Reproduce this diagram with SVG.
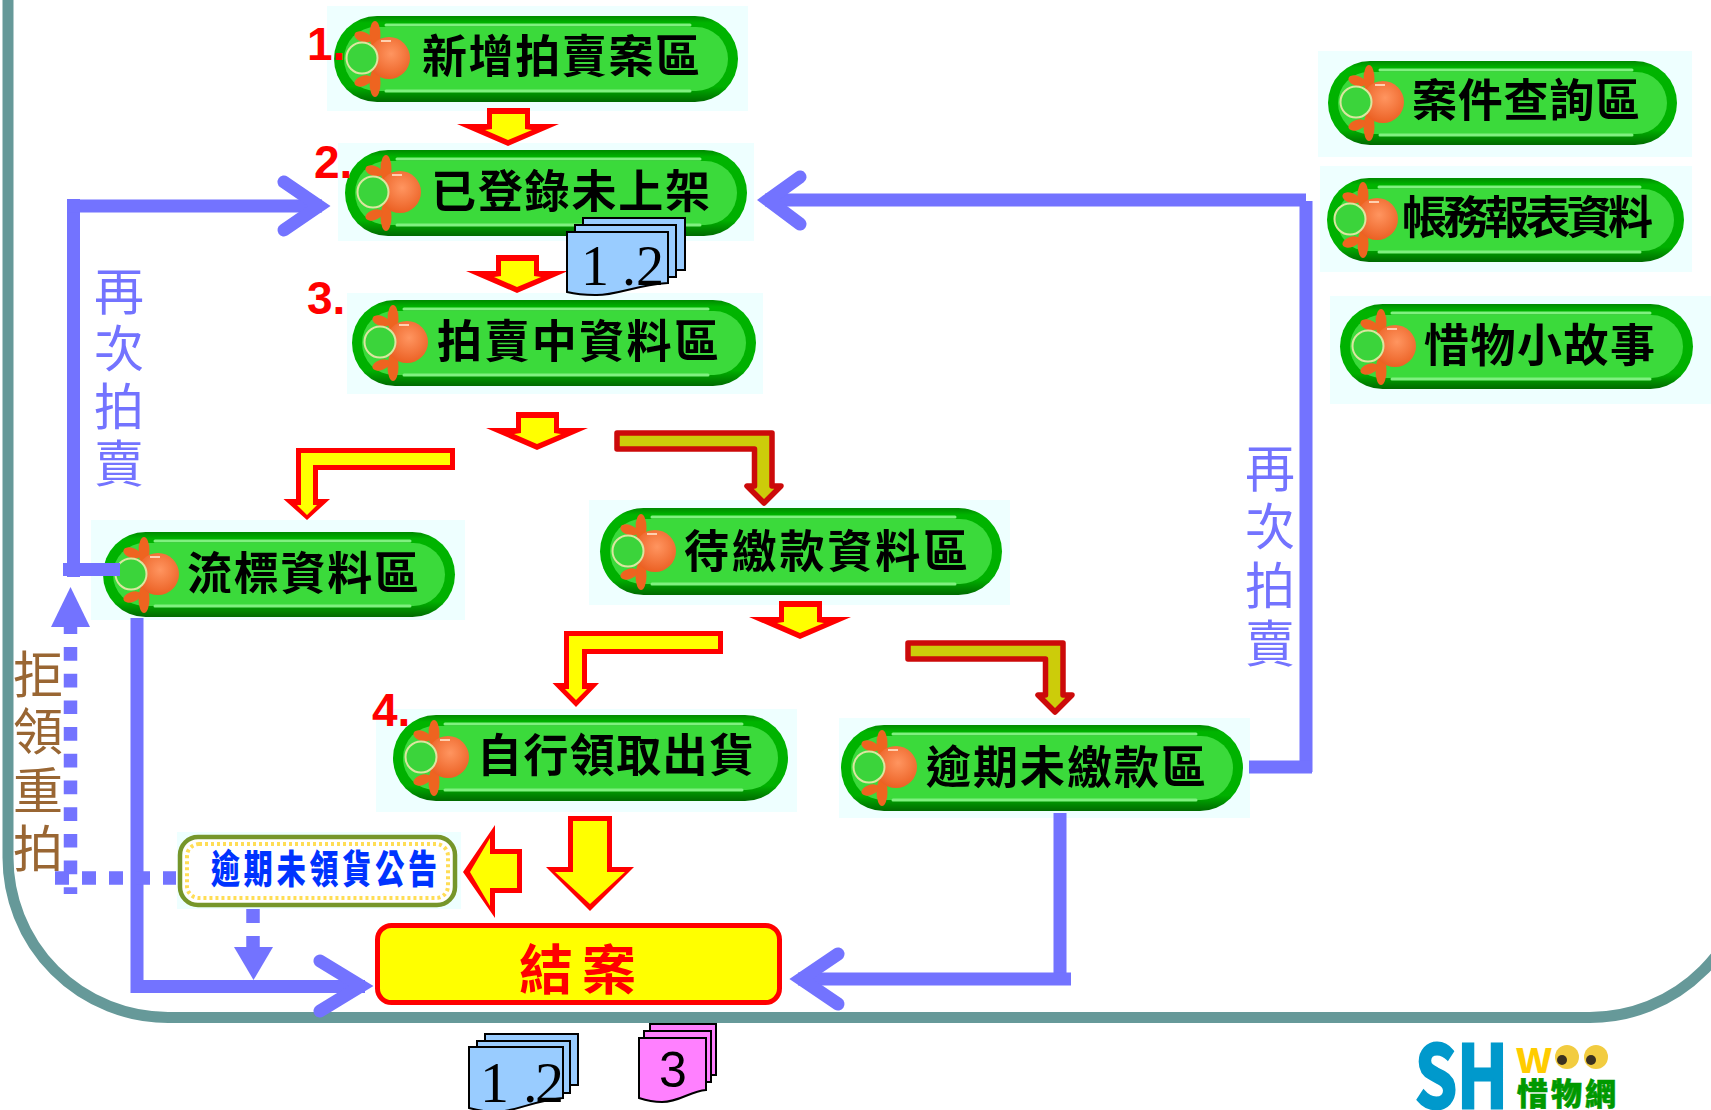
<svg xmlns="http://www.w3.org/2000/svg" xmlns:xlink="http://www.w3.org/1999/xlink" width="1711" height="1110" viewBox="0 0 1711 1110">
<style>
text{font-family:"Noto Sans CJK TC","Noto Sans CJK SC",sans-serif}
.bg{fill:#eeffff}
.rim{fill:url(#rimG)}
.core{fill:#3bda3b}
.hl{stroke:#80f080;stroke-width:3;fill:none;stroke-linecap:round}
.pt{font-size:45px;font-weight:700;fill:#000;filter:url(#soft)}
.lab{font-size:50px}
.vio{fill:#7373ff}
.brn{fill:#996633}
.num{font-family:"Liberation Sans",sans-serif;font-weight:700;font-size:46px;fill:#ff0000}
.bl{fill:none;stroke:#7373ff;stroke-width:13}
.chev{fill:none;stroke:#7373ff;stroke-width:13;stroke-linecap:round;stroke-linejoin:miter;stroke-miterlimit:4}
.dot{fill:none;stroke:#7373ff;stroke-width:13.5}
.tri{fill:#7373ff}
.red{fill:#ff0000}
.yel{fill:#ffff00}
.ol{fill:#cccc0a;stroke:#cc0a0a;stroke-width:5.5;stroke-linejoin:round}
.doc{stroke:#000;stroke-width:2}
.blue{fill:#99ccff}
.pink{fill:#ff80ff}
.dn{font-family:"Liberation Serif",serif;fill:#000}
.dp{font-family:"Liberation Sans",sans-serif;fill:#000}
</style>
<defs>
<linearGradient id="rimG" x1="0" y1="0" x2="0" y2="1">
<stop offset="0" stop-color="#008a00"/><stop offset=".08" stop-color="#00b400"/><stop offset=".82" stop-color="#00b000"/><stop offset="1" stop-color="#006a00"/>
</linearGradient>
<radialGradient id="orG" cx=".55" cy=".4" r=".7">
<stop offset="0" stop-color="#ff9560"/><stop offset="1" stop-color="#e8581a"/>
</radialGradient>
<filter id="soft" x="-5%" y="-5%" width="110%" height="110%"><feGaussianBlur stdDeviation=".6"/></filter>
<g id="fl">
<ellipse cx="41" cy="19" rx="5.500" ry="14" fill="#ee6420"/>
<ellipse cx="41" cy="67" rx="5.500" ry="14" fill="#ee6420"/>
<ellipse cx="29" cy="21" rx="9" ry="5" fill="#ee6420" transform="rotate(20 29 21)"/>
<ellipse cx="29" cy="65" rx="9" ry="5" fill="#ee6420" transform="rotate(-20 29 65)"/>
<ellipse cx="55" cy="42" rx="21" ry="21" fill="url(#orG)"/>
<path d="M47 25h10" stroke="#ffd0b0" stroke-width="2" fill="none"/>
<circle cx="28" cy="42" r="15.500" fill="#3bd43b" stroke="#dbe6a0" stroke-width="2"/>
</g>
<g id="aw"><polygon class="red" points="487,108 530,108 530,124 559,124 508,146 457,124 487,124"/><polygon class="yel" points="492,114 525,114 525,129 532,130 508,140 485,130 492,129"/></g>
</defs>
<rect width="1711" height="1110" fill="#fff"/>
<path id="frame" d="M8,0 V857 A160,160 0 0 0 168,1017.500 H1590 A160,160 0 0 0 1750,857" fill="none" stroke="#669999" stroke-width="11"/>

<g id="n1"><rect class="bg" x="327" y="6" width="421" height="105"/><rect class="rim" x="334" y="16" width="404" height="86" rx="43"/><rect class="core" x="344" y="27" width="384" height="64" rx="32"/><path class="hl" d="M386,25H690M386,91H690"/><use href="#fl" x="334" y="16"/><text class="pt" x="422" y="73" textLength="278">新增拍賣案區</text><text class="num" x="307" y="60">1.</text></g>
<g id="n2"><rect class="bg" x="338" y="143" width="416" height="98"/><rect class="rim" x="345" y="150" width="402" height="86" rx="43"/><rect class="core" x="355" y="161" width="382" height="64" rx="32"/><path class="hl" d="M397,159H700M397,225H700"/><use href="#fl" x="345" y="150"/><text class="pt" x="431" y="208" textLength="279">已登錄未上架</text><text class="num" x="314" y="178">2.</text></g>
<g id="n3"><rect class="bg" x="347" y="293" width="416" height="101"/><rect class="rim" x="352" y="300" width="404" height="86" rx="43"/><rect class="core" x="362" y="311" width="384" height="64" rx="32"/><path class="hl" d="M404,309H708M404,375H708"/><use href="#fl" x="352" y="300"/><text class="pt" x="437" y="358" textLength="282">拍賣中資料區</text><text class="num" x="307" y="314">3.</text></g>
<g id="n5"><rect class="bg" x="91" y="520" width="374" height="100"/><rect class="rim" x="103" y="532" width="352" height="85" rx="42.500"/><rect class="core" x="113" y="543" width="332" height="63" rx="31.500"/><path class="hl" d="M155,541H410M155,606H410"/><use href="#fl" x="103" y="532"/><text class="pt" x="187" y="590" textLength="232">流標資料區</text></g>
<g id="n6"><rect class="bg" x="589" y="500" width="421" height="105"/><rect class="rim" x="600" y="508" width="402" height="87" rx="43.500"/><rect class="core" x="610" y="519" width="382" height="65" rx="32"/><path class="hl" d="M652,517H955M652,584H955"/><use href="#fl" x="600" y="509"/><text class="pt" x="684" y="568" textLength="284">待繳款資料區</text></g>
<g id="n7"><rect class="bg" x="376" y="709" width="421" height="103"/><rect class="rim" x="393" y="715" width="395" height="86" rx="43"/><rect class="core" x="403" y="726" width="375" height="64" rx="32"/><path class="hl" d="M445,724H742M445,790H742"/><use href="#fl" x="393" y="715"/><text class="pt" x="477" y="772" textLength="277">自行領取出貨</text><text class="num" x="372" y="726">4.</text></g>
<g id="n8"><rect class="bg" x="839" y="718" width="411" height="100"/><rect class="rim" x="841" y="725" width="402" height="86" rx="43"/><rect class="core" x="851" y="736" width="382" height="64" rx="32"/><path class="hl" d="M893,734H1196M893,800H1196"/><use href="#fl" x="841" y="725"/><text class="pt" x="926" y="784" textLength="280">逾期未繳款區</text></g>
<g id="n9"><rect class="bg" x="1318" y="51" width="374" height="106"/><rect class="rim" x="1328" y="61" width="349" height="84" rx="42"/><rect class="core" x="1338" y="72" width="329" height="62" rx="31"/><path class="hl" d="M1380,70H1632M1380,135H1632"/><use href="#fl" x="1328" y="60"/><text class="pt" x="1412" y="117" textLength="228">案件查詢區</text></g>
<g id="n10"><rect class="bg" x="1320" y="166" width="372" height="106"/><rect class="rim" x="1327" y="178" width="357" height="84" rx="42"/><rect class="core" x="1337" y="189" width="337" height="62" rx="31"/><path class="hl" d="M1379,187H1640M1379,252H1640"/><use href="#fl" x="1322" y="177"/><text class="pt" x="1402" y="234" textLength="251">帳務報表資料</text></g>
<g id="n11"><rect class="bg" x="1330" y="296" width="381" height="108"/><rect class="rim" x="1340" y="304" width="353" height="85" rx="42.500"/><rect class="core" x="1350" y="315" width="333" height="63" rx="31.500"/><path class="hl" d="M1392,313H1650M1392,379H1650"/><use href="#fl" x="1340" y="304"/><text class="pt" x="1424" y="362" textLength="231">惜物小故事</text></g>

<g id="n12"><rect class="bg" x="177" y="832" width="284" height="77"/><rect x="180" y="837" width="275" height="68" rx="18" fill="#fff" stroke="#76962a" stroke-width="4.500"/><rect x="187" y="844" width="261" height="54" rx="12" fill="none" stroke="#ffdd55" stroke-width="4" stroke-dasharray="3 3"/><text transform="translate(211,883) scale(1,1.350)" x="0" y="0" font-size="29" font-weight="900" fill="#0033ff" textLength="226">逾期未領貨公告</text></g>
<g id="n13"><rect x="377.500" y="925.500" width="402" height="77" rx="14" fill="#ffff00" stroke="#ff0000" stroke-width="5"/><text x="519" y="990" font-size="54" font-weight="700" fill="#ff0000" letter-spacing="9">結案</text></g>

<g id="connectors">
<path class="bl" d="M73.500,577V199"/><path class="bl" d="M67,206H322"/><path class="bl" d="M63,569.500H120"/>
<path class="chev" d="M284,182L319,206L284,230"/>
<path class="bl" d="M1306,200H765"/><path class="bl" d="M1306,201V772"/><path class="bl" d="M1249,767H1312"/>
<path class="chev" d="M800,177L768,200L800,224"/>
<path class="bl" d="M137,618V993"/><path class="bl" d="M131,986.500H365"/>
<path class="chev" d="M320,961L361,986L320,1011"/>
<path class="bl" d="M1060,813V985"/><path class="bl" d="M1071,979H798"/>
<path class="chev" d="M838,954L801,979L838,1004"/>
<path class="dot" d="M70.500,620.300V894" stroke-dasharray="13.700 13"/>
<polygon class="tri" points="70.500,587 90,627 51,627"/>
<path class="dot" d="M55,878H176" stroke-dasharray="14 13"/>
<path class="dot" d="M253,909V950" stroke-dasharray="14 13"/>
<polygon class="tri" points="234,947 273,947 253.500,980"/>
<use href="#aw"/>
<use href="#aw" x="9" y="147"/>
<use href="#aw" x="29" y="304"/>
<use href="#aw" x="292" y="493"/>
<polygon class="red" points="296,448 455,448 455,470 318,470 318,499 330,499 307,520 283.500,499 296,499"/>
<polygon class="yel" points="301,453 450,453 450,465 313,465 313,505 317,505 307,515 297,505 301,505"/>
<polygon class="red" points="564,631 723,631 723,654 587,654 587,683 599,683 576,707 552.500,683 564,683"/>
<polygon class="yel" points="569,636 718,636 718,649 582,649 582,689 587,689 576,700 565,689 569,689"/>
<polygon class="ol" points="617,433 772,433 772,486 781,486 764,503 747,486 754.500,486 754.500,449 617,449"/>
<polygon class="ol" points="908,643 1063,643 1063,695 1072,695 1055,712 1038,695 1045.500,695 1045.500,659 908,659"/>
<polygon class="red" points="568,816 612,816 612,867 634,867 590,911 546,867 568,867"/>
<polygon class="yel" points="573,821 607,821 607,872 625,872 590,904 555,872 573,872"/>
<polygon class="red" points="463,872 495,825 495,849 522,849 522,893 495,893 495,918"/>
<polygon class="yel" points="470,872 490,838 490,854 517,854 517,888 490,888 490,906"/>
</g>

<g id="labels">
<g class="vio lab"><text x="94" y="310">再</text><text x="94" y="367">次</text><text x="94" y="425">拍</text><text x="94" y="482">賣</text>
<text x="1245" y="487">再</text><text x="1245" y="545">次</text><text x="1245" y="604">拍</text><text x="1245" y="662">賣</text></g>
<g class="brn lab"><text x="13" y="693">拒</text><text x="13" y="750">領</text><text x="13" y="809">重</text><text x="13" y="867">拍</text></g>
</g>

<g id="doc1">
<path class="doc blue" d="M583,218H685V270H583Z"/><path class="doc blue" d="M575,225H676V277H575Z"/>
<path class="doc blue" d="M567,232H668V283C635,285 615,296 595,295C585,295 575,294 567,292Z"/>
<text class="dn" font-size="56" x="581 622 636" y="285">1.2</text>
</g>
<g id="doc2">
<path class="doc blue" d="M485,1034H578V1085H485Z"/><path class="doc blue" d="M477,1041H570V1093H477Z"/>
<path class="doc blue" d="M469,1047H563V1098C535,1100 515,1112 495,1112C485,1112 477,1110 469,1108Z"/>
<text class="dn" font-size="58" x="480 523 535" y="1102">1.2</text>
</g>
<g id="doc3">
<path class="doc pink" d="M650,1024H716V1075H650Z"/><path class="doc pink" d="M644,1031H711V1082H644Z"/>
<path class="doc pink" d="M639,1038H706V1090C690,1091 680,1102 662,1102C652,1102 645,1100 639,1098Z"/>
<text class="dp" font-size="50" x="659" y="1087">3</text>
</g>

<g id="logo">
<text x="1415" y="1108" font-family="Liberation Sans,sans-serif" font-weight="700" font-size="86" fill="#0099cc" stroke="#0099cc" stroke-width="3" textLength="93" lengthAdjust="spacingAndGlyphs">SH</text>
<text x="1515" y="1073" font-family="Liberation Sans,sans-serif" font-weight="700" font-size="44" fill="#ffcc00">w</text>
<circle cx="1567" cy="1057" r="12" fill="#f2cc40"/><circle cx="1596" cy="1057" r="12" fill="#f2cc40"/>
<circle cx="1562" cy="1060" r="5" fill="#3a3020"/><circle cx="1591" cy="1060" r="5" fill="#3a3020"/>
<text x="1517" y="1105" font-size="31" font-weight="900" fill="#009900" stroke="#009900" stroke-width=".6" letter-spacing="3">惜物網</text>
</g>
</svg>
